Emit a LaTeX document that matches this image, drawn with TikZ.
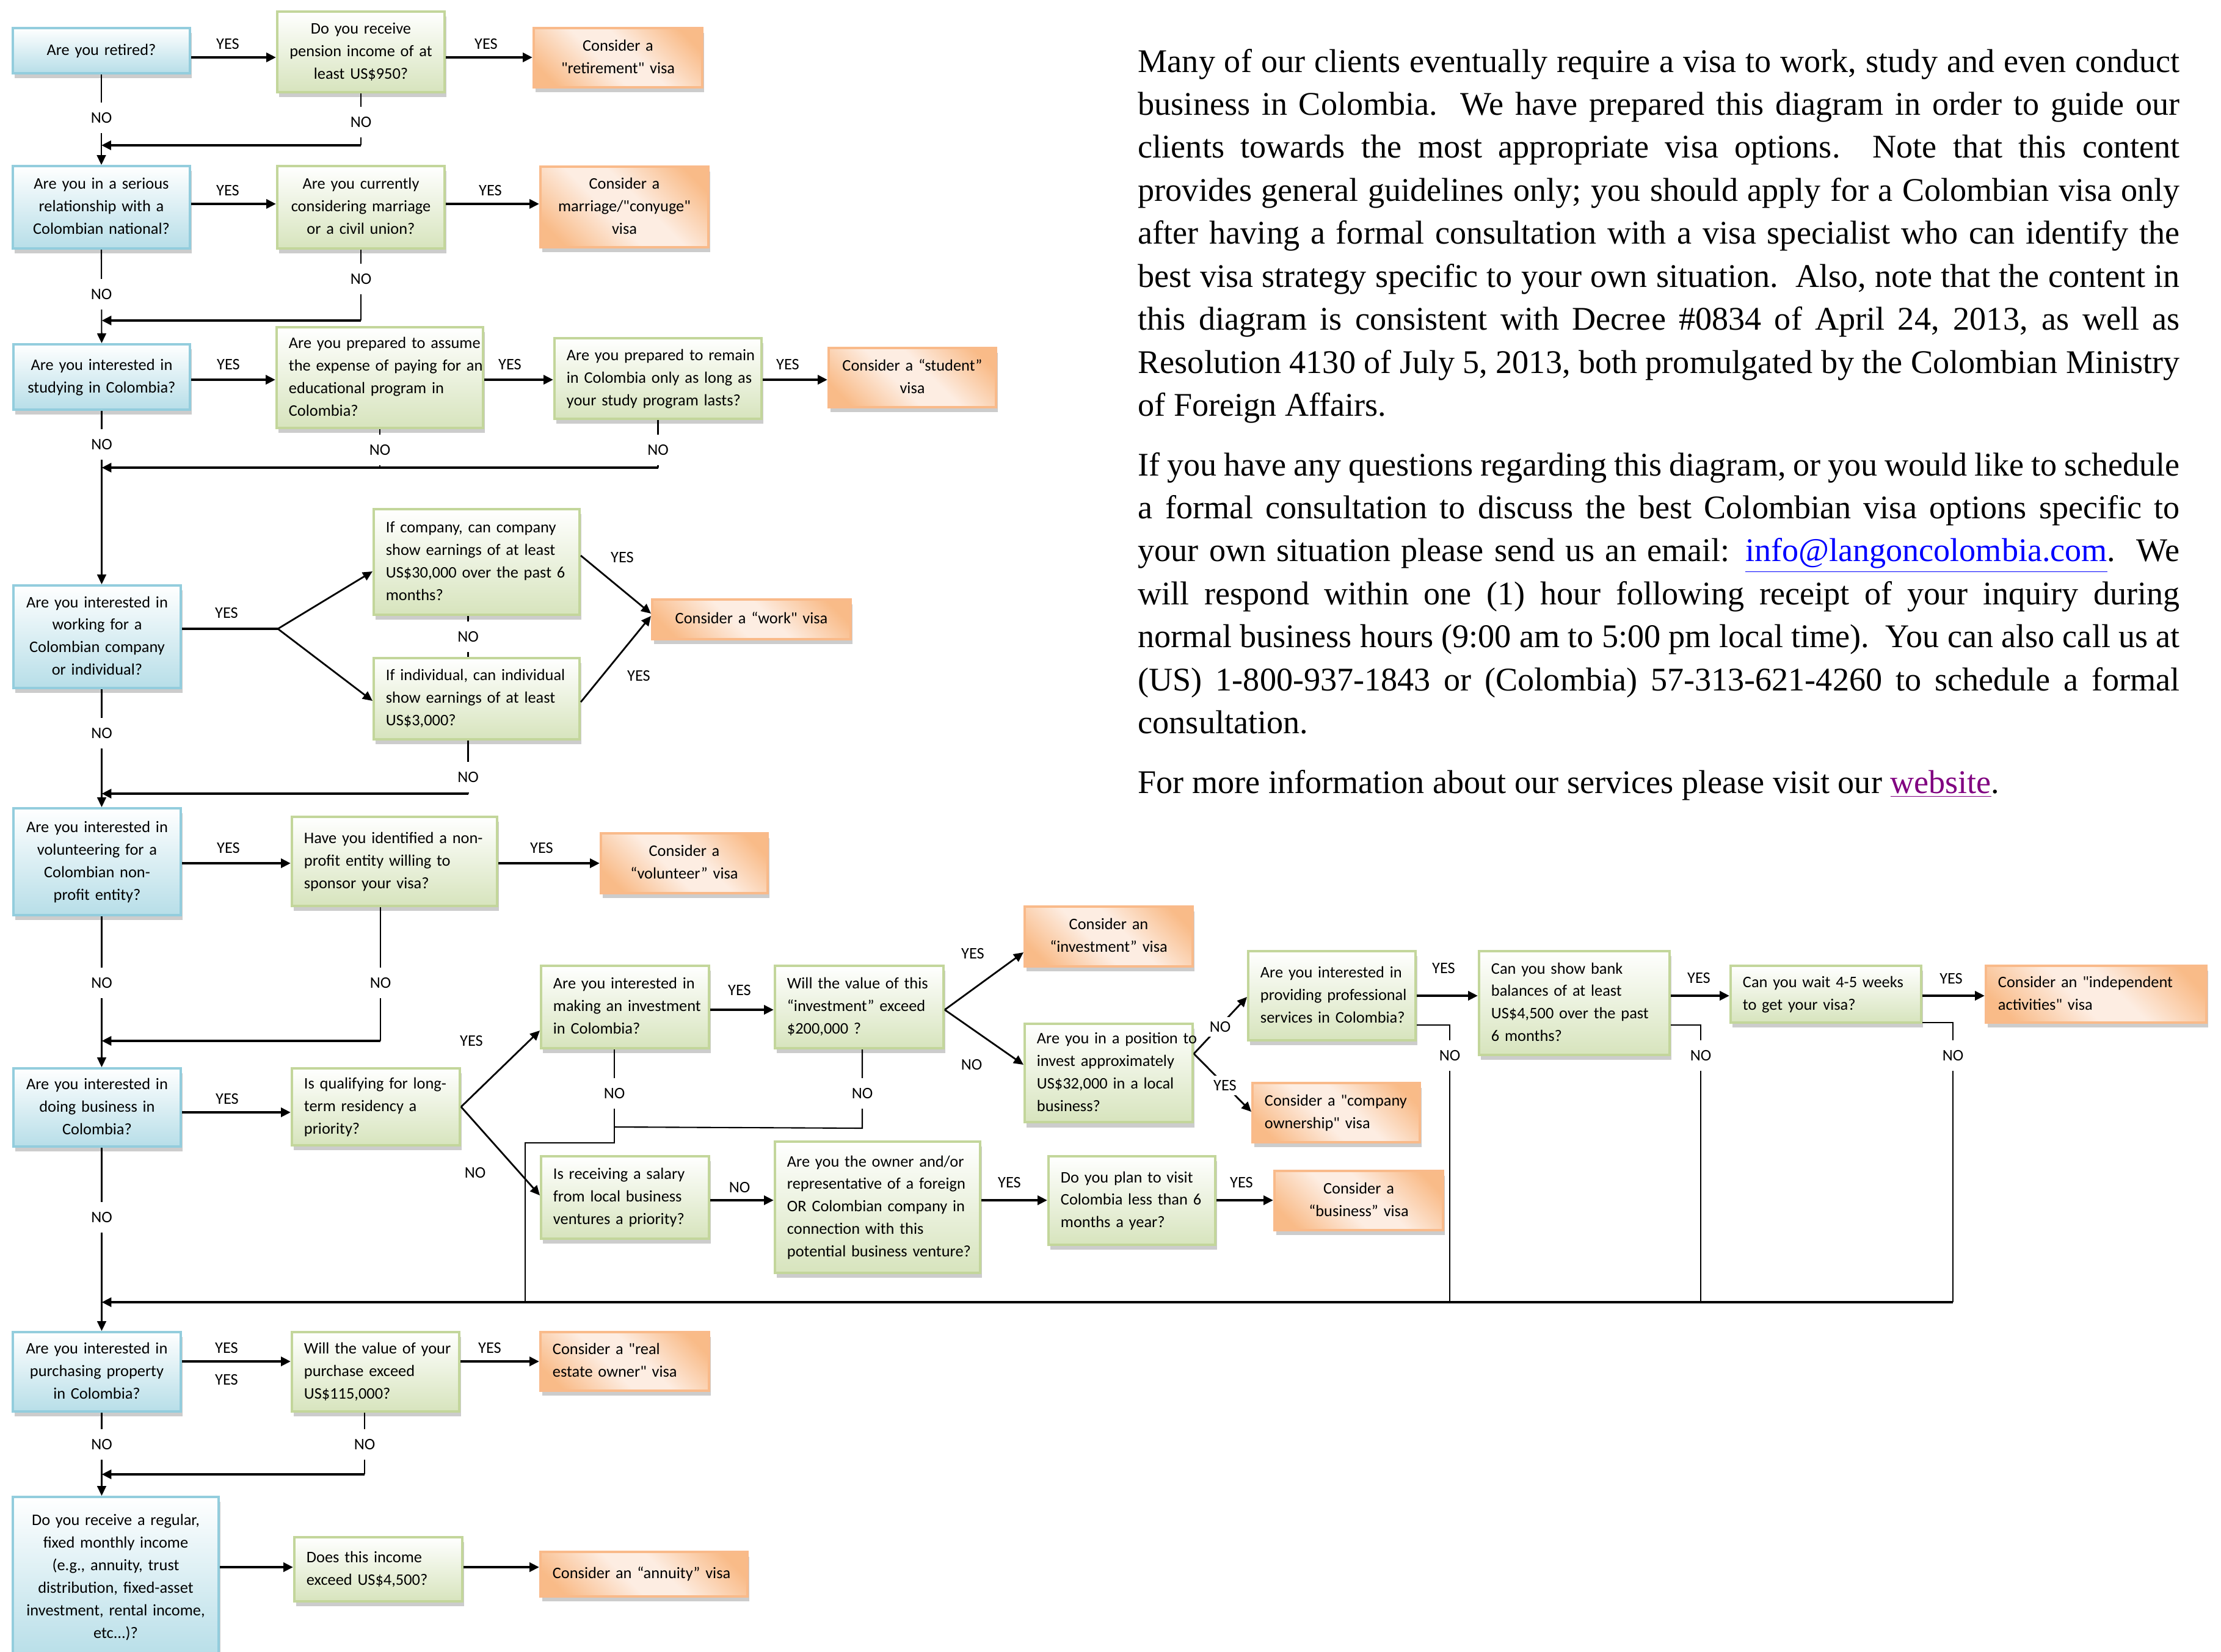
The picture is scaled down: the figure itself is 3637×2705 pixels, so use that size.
\documentclass[tikz,border=0pt]{standalone}
\usepackage{fontspec}
\setmainfont{Liberation Serif}
\newfontfamily\boxfont{Carlito}
\usetikzlibrary{arrows.meta,shadows}
\definecolor{bluebd}{HTML}{93CDDD}
\definecolor{bluebot}{HTML}{B7DEE8}
\definecolor{greenbd}{HTML}{C3D69B}
\definecolor{greenbot}{HTML}{D7E4BD}
\definecolor{orgD}{HTML}{F9BB88}
\definecolor{orgL}{HTML}{FDEDE2}
\definecolor{orgbd}{HTML}{F9BA8A}
\definecolor{linkblue}{HTML}{0000FF}
\definecolor{linkpurple}{HTML}{800080}
\pgfdeclarehorizontalshading{orgshade}{100bp}{color(0bp)=(orgD); color(22bp)=(orgD); color(44bp)=(orgL); color(56bp)=(orgL); color(78bp)=(orgD); color(100bp)=(orgD)}
\tikzset{
 qb/.style={draw, line width=1.1pt, inner xsep=0.2cm, inner ysep=2pt,
   font=\boxfont\fontsize{7.5}{10.5}\selectfont,
   drop shadow={shadow xshift=0.8pt, shadow yshift=-2.3pt, opacity=0.2, fill=black}},
 bq/.style={qb, draw=bluebd, top color=white, bottom color=bluebot},
 gq/.style={qb, draw=greenbd, top color=white, bottom color=greenbot},
 oq/.style={qb, draw=orgbd, shade, shading=orgshade, shading angle=45},
 al l/.style={align=left}, al c/.style={align=center},
 lbl/.style={font=\boxfont\fontsize{7.5}{9}\selectfont, inner sep=1pt},
 gap/.style={lbl, fill=white, inner ysep=0.16cm, inner xsep=0.06cm},
 ya/.style={line width=1.2pt, -{Triangle[length=4.5pt,width=4.2pt]}},
 ma/.style={line width=0.8pt, -{Triangle[length=4.5pt,width=4.2pt]}},
 ta/.style={line width=0.6pt, -{Triangle[length=4.5pt,width=4.2pt]}},
 tl/.style={line width=0.6pt},
 body/.style={font=\fontsize{15.4}{18}\selectfont, inner sep=0pt},
}
\newcommand\qbox[8]{%
 \pgfmathsetmacro\qbw{(#5-(#3))/100}%
 \pgfmathsetmacro\qbh{(#6-(#4))/100}%
 \pgfmathsetmacro\qbt{(#5-(#3)-40)/100}%
 \node[#1, al #7, minimum width=\qbw cm, minimum height=\qbh cm, text width=\qbt cm] (#2) at ({(#3+#5)/2},{(#4+#6)/2}) {\noindent\begin{tabular}{@{}#7@{}}#8\end{tabular}};}
\newcommand\bline[4]{\node[body, anchor=base west] (#1) at (1863,#2) {\makebox[17.05cm][#3]{#4}};}
\begin{document}
\begin{tikzpicture}[x=0.01cm,y=-0.01cm]
\useasboundingbox (0,0) rectangle (3637,2705);
\fill[white] (0,0) rectangle (3637,2705);

% ---------- boxes ----------
\qbox{bq}{B1}{21}{46}{311}{120}{c}{Are you retired?}
\qbox{gq}{G1}{454}{19}{728}{151}{c}{Do you receive\\pension income of at\\least US\$950?}
\qbox{oq}{O1}{874}{46}{1150}{143}{c}{Consider a\\"retirement" visa}

\qbox{bq}{B2}{21}{272}{311}{407}{c}{Are you in a serious\\relationship with a\\Colombian national?}
\qbox{gq}{G2}{454}{272}{728}{407}{c}{Are you currently\\considering marriage\\or a civil union?}
\qbox{oq}{O2}{885}{273}{1160}{405}{c}{Consider a\\marriage/"conyuge"\\visa}

\qbox{bq}{B3}{22}{564}{311}{671}{c}{Are you interested in\\studying in Colombia?}
\qbox{gq}{G3}{453}{536}{791}{701}{l}{Are you prepared to assume\\the expense of paying for an\\educational program in\\Colombia?}
\qbox{gq}{G3b}{908}{554}{1247}{686}{l}{Are you prepared to remain\\in Colombia only as long as\\your study program lasts?}
\qbox{oq}{O3}{1357}{570}{1631}{667}{c}{Consider a “student”\\visa}

\qbox{bq}{B4}{22}{959}{296}{1127}{c}{Are you interested in\\working for a\\Colombian company\\or individual?}
\qbox{gq}{G4a}{612}{834}{949}{1007}{l}{If company, can company\\show earnings of at least\\US\$30,000 over the past 6\\months?}
\qbox{gq}{G4b}{612}{1078}{949}{1211}{l}{If individual, can individual\\show earnings of at least\\US\$3,000?}
\qbox{oq}{O4}{1068}{982}{1393}{1047}{c}{Consider a “work" visa}

\qbox{bq}{B5}{22}{1324}{296}{1499}{c}{Are you interested in\\volunteering for a\\Colombian non-\\profit entity?}
\qbox{gq}{G5}{478}{1338}{814}{1484}{l}{Have you identified a non-\\profit entity willing to\\sponsor your visa?}
\qbox{oq}{O5}{984}{1365}{1257}{1463}{c}{Consider a\\“volunteer” visa}

\qbox{bq}{B6}{22}{1750}{296}{1878}{c}{Are you interested in\\doing business in\\Colombia?}
\qbox{gq}{G6}{478}{1750}{753}{1876}{l}{Is qualifying for long-\\term residency a\\priority?}
\qbox{gq}{G7}{886}{1582}{1161}{1717}{l}{Are you interested in\\making an investment\\in Colombia?}
\qbox{gq}{G7b}{1269}{1582}{1545}{1717}{l}{Will the value of this\\“investment” exceed\\\$200,000 ?}
\qbox{oq}{Oinv}{1678}{1485}{1953}{1583}{c}{Consider an\\“investment” visa}
\qbox{gq}{Gpos}{1678}{1678}{1953}{1837}{l}{Are you in a position to\\invest approximately\\US\$32,000 in a local\\business?}
\qbox{gq}{G10}{2044}{1558}{2318}{1704}{l}{Are you interested in\\providing professional\\services in Colombia?}
\qbox{oq}{Ocomp}{2051}{1774}{2325}{1871}{l}{Consider a "company\\ownership" visa}
\qbox{gq}{G11}{2422}{1558}{2734}{1728}{l}{Can you show bank\\balances of at least\\US\$4,500 over the past\\6 months?}
\qbox{gq}{G12}{2834}{1582}{3146}{1675}{l}{Can you wait 4-5 weeks\\to get your visa?}
\qbox{oq}{Oind}{3252}{1582}{3613}{1675}{l}{Consider an "independent\\activities" visa}
\qbox{gq}{G8}{886}{1894}{1161}{2029}{l}{Is receiving a salary\\from local business\\ventures a priority?}
\qbox{gq}{G8b}{1269}{1870}{1605}{2085}{l}{Are you the owner and/or\\representative of a foreign\\OR Colombian company in\\connection with this\\potential business venture?}
\qbox{gq}{G9}{1717}{1894}{1990}{2039}{l}{Do you plan to visit\\Colombia less than 6\\months a year?}
\qbox{oq}{Obus}{2087}{1918}{2363}{2015}{c}{Consider a\\“business” visa}

\qbox{bq}{B7}{21}{2182}{296}{2312}{c}{Are you interested in\\purchasing property\\in Colombia?}
\qbox{gq}{G13}{478}{2182}{752}{2312}{l}{Will the value of your\\purchase exceed\\US\$115,000?}
\qbox{oq}{Ore}{885}{2182}{1161}{2278}{l}{Consider a "real\\estate owner" visa}

\qbox{bq}{B8}{21}{2452}{358}{2715}{c}{Do you receive a regular,\\fixed monthly income\\(e.g., annuity, trust\\distribution, fixed-asset\\investment, rental income,\\etc...)?}
\qbox{gq}{G14}{482}{2518}{757}{2623}{l}{Does this income\\exceed US\$4,500?}
\qbox{oq}{Oann}{885}{2542}{1224}{2615}{l}{Consider an “annuity” visa}

% ---------- connectors ----------
% row 1
\draw[ya] (B1.east |- 0,94) -- (G1.west |- 0,94);
\draw[ya] (G1.east |- 0,94) -- (O1.west |- 0,94);
\draw[ta] (B1.south) -- (B2.north);
\draw[tl] (G1.south) -- (G1.south |- 0,238) coordinate (m1);
\draw[ya] (m1) -- (m1 -| B2.north);
% row 2
\draw[ya] (B2.east |- 0,334) -- (G2.west |- 0,334);
\draw[ya] (G2.east |- 0,334) -- (O2.west |- 0,334);
\draw[ta] (B2.south) -- (B3.north);
\draw[tl] (G2.south) -- (G2.south |- 0,525) coordinate (m2);
\draw[ya] (m2) -- (m2 -| B3.north);
% row 3
\draw[ya] (B3.east |- 0,622) -- (G3.west |- 0,622);
\draw[ya] (G3.east |- 0,622) -- (G3b.west |- 0,622);
\draw[ya] (G3b.east |- 0,622) -- (O3.west |- 0,622);
\draw[ta] (B3.south) -- (B3.south |- B4.north);
\draw[tl] (G3.south) -- (G3.south |- 0,766);
\draw[tl] (G3b.south) -- (G3b.south |- 0,766) coordinate (m3);
\draw[ya] (m3) -- (m3 -| B3.south);
% row 4
\draw[line width=1.2pt] (B4.east |- 0,1030) -- (455,1030) coordinate (f4);
\draw[ma] (f4) -- (G4a.west |- 0,936);
\draw[ma] (f4) -- (G4b.west |- 0,1148);
\draw[ma] (G4a.east |- 0,910) -- (O4.west |- 0,1005);
\draw[ma] (G4b.east |- 0,1150) -- (O4.west |- 0,1009);
\draw[tl] ([xshift=-0.14cm]G4a.south) -- ([xshift=-0.14cm]G4b.north);
\draw[tl] ([xshift=-0.14cm]G4b.south) -- ++(0,87) coordinate (m4);
\draw[ya] (m4) -- (m4 -| B3.south);
\draw[ta] (B3.south |- B4.south) -- (B3.south |- B5.north);
% row 5
\draw[ya] (B5.east |- 0,1414) -- (G5.west |- 0,1414);
\draw[ya] (G5.east |- 0,1414) -- (O5.west |- 0,1414);
\draw[ta] (B3.south |- B5.south) -- (B3.south |- B6.north);
\draw[tl] ([xshift=-0.23cm]G5.south) -- ++(0,219) coordinate (m5);
\draw[ya] (m5) -- (m5 -| B3.south);
% row 6
\draw[ya] (B6.east |- 0,1822) -- (G6.west |- 0,1822);
\draw[ma] (G6.east |- 0,1813) coordinate (f6) -- (G7.west |- 0,1688);
\draw[ma] (f6) -- (G8.west |- 0,1958);
\draw[ya] (G7.east |- 0,1654) -- (G7b.west |- 0,1654);
\draw[ma] (G7b.east |- 0,1654) coordinate (f7) -- (Oinv.west |- 0,1560);
\draw[ma] (f7) -- (Gpos.west |- 0,1744);
\draw[ma] (Gpos.east |- 0,1726) coordinate (f8) -- (G10.west |- 0,1633);
\draw[ma] (f8) -- (Ocomp.west |- 0,1821);
\draw[ya] (G10.east |- 0,1631) -- (G11.west |- 0,1631);
\draw[ya] (G11.east |- 0,1631) -- (G12.west |- 0,1631);
\draw[ya] (G12.east |- 0,1631) -- (Oind.west |- 0,1631);
\draw[tl] (G10.east |- 0,1679) -- (2374,1679) -- (2374,2133);
\draw[tl] (G11.east |- 0,1679) -- (2785,1679) -- (2785,2133);
\draw[tl] (G12.east |- 0,1675) -- (3198,1675) -- (3198,2133) coordinate (m9);
\draw[ya] (m9) -- (m9 -| B3.south);
\draw[tl] ([xshift=-0.175cm]G7.south) -- ++(0,153) coordinate (m7a) -- ++(-146,0) -- ++(0,263);
\draw[tl] ([xshift=0.05cm]G7b.south) -- ++(0,129) -- ([xshift=-0.175cm]G7.south |- 0,1846);
\draw[ya] (G8.east |- 0,1966) -- (G8b.west |- 0,1966);
\draw[ya] (G8b.east |- 0,1966) -- (G9.west |- 0,1966);
\draw[ya] (G9.east |- 0,1966) -- (Obus.west |- 0,1966);
\draw[ta] (B3.south |- B6.south) -- (B3.south |- B7.north);
% row 7
\draw[ya] (B7.east |- 0,2230) -- (G13.west |- 0,2230);
\draw[ya] (G13.east |- 0,2230) -- (Ore.west |- 0,2230);
\draw[ta] (B3.south |- B7.south) -- (B3.south |- B8.north);
\draw[tl] ([xshift=-0.18cm]G13.south) -- ++(0,101) coordinate (m10);
\draw[ya] (m10) -- (m10 -| B3.south);
% row 8
\draw[ya] (B8.east |- 0,2567) -- (G14.west |- 0,2567);
\draw[ya] (G14.east |- 0,2567) -- (Oann.west |- 0,2567);

% ---------- labels ----------
\node[lbl] (l1) at (373,72) {YES};
\node[lbl] (l2) at (796,72) {YES};
\node[gap] (l3) at (166,193) {NO};
\node[gap] (l4) at (591,200) {NO};
\node[lbl] (l5) at (373,312) {YES};
\node[lbl] (l6) at (803,312) {YES};
\node[gap] (l7) at (166,482) {NO};
\node[gap] (l8) at (591,457) {NO};
\node[lbl] (l9) at (374,597) {YES};
\node[lbl] (l10) at (835,597) {YES};
\node[lbl] (l11) at (1290,597) {YES};
\node[gap] (l12) at (166.5,728) {NO};
\node[gap] (l13) at (622,737) {NO};
\node[gap] (l14) at (1077.5,737) {NO};
\node[lbl] (l15) at (371,1004) {YES};
\node[lbl] (l16) at (1019,913) {YES};
\node[lbl] (l17) at (1046,1107) {YES};
\node[gap] (l18) at (766.5,1043) {NO};
\node[gap] (l19) at (766.5,1273) {NO};
\node[gap] (l20) at (166.5,1201) {NO};
\node[lbl] (l21) at (374,1389) {YES};
\node[lbl] (l22) at (887,1389) {YES};
\node[gap] (l23) at (166.5,1610) {NO};
\node[gap] (l24) at (623,1610) {NO};
\node[lbl] (l25) at (372,1800) {YES};
\node[lbl] (l26) at (772,1705) {YES};
\node[lbl] (l27) at (778,1921) {NO};
\node[lbl] (l28) at (1211,1622) {YES};
\node[lbl] (l29) at (1593,1562) {YES};
\node[lbl] (l30) at (1591,1744) {NO};
\node[gap, inner ysep=2pt] (l31) at (1998,1682) {NO};
\node[gap, inner ysep=2pt] (l32) at (2006,1778) {YES};
\node[lbl] (l33) at (2364,1586) {YES};
\node[lbl] (l34) at (2782,1602) {YES};
\node[lbl] (l35) at (3195,1603) {YES};
\node[gap] (l36) at (2374,1729) {NO};
\node[gap] (l37) at (2785,1729) {NO};
\node[gap] (l38) at (3198,1729) {NO};
\node[gap] (l39) at (1006,1791) {NO};
\node[gap] (l40) at (1412,1791) {NO};
\node[lbl] (l41) at (1211,1945) {NO};
\node[lbl] (l42) at (1653,1937) {YES};
\node[lbl] (l43) at (2033,1937) {YES};
\node[gap] (l44) at (166.5,1994) {NO};
\node[lbl] (l45) at (371,2208) {YES};
\node[lbl] (l46) at (371,2260) {YES};
\node[lbl] (l47) at (802,2208) {YES};
\node[gap] (l48) at (166.5,2366) {NO};
\node[gap] (l49) at (597,2366) {NO};

% ---------- text ----------
\bline{p1a}{118}{s}{Many of our clients eventually require a visa to work, study and even conduct}
\bline{p1b}{188.45}{s}{business in Colombia.\ \ We have prepared this diagram in order to guide our}
\bline{p1c}{258.9}{s}{clients towards the most appropriate visa options.\ \ Note that this content}
\bline{p1d}{329.35}{s}{provides general guidelines only; you should apply for a Colombian visa only}
\bline{p1e}{399.8}{s}{after having a formal consultation with a visa specialist who can identify the}
\bline{p1f}{470.25}{s}{best visa strategy specific to your own situation.\ \ Also, note that the content in}
\bline{p1g}{540.7}{s}{this diagram is consistent with Decree \#0834 of April 24, 2013, as well as}
\bline{p1h}{611.15}{s}{Resolution 4130 of July 5, 2013, both promulgated by the Colombian Ministry}
\bline{p1i}{681.6}{l}{of Foreign Affairs.}
\bline{p2a}{779}{s}{If you have any questions regarding this diagram, or you would like to schedule}
\bline{p2b}{849.45}{s}{a formal consultation to discuss the best Colombian visa options specific to}
\bline{p2c}{919.9}{s}{your own situation please send us an email: \textcolor{linkblue}{\underline{info@langoncolombia.com}}.\ \ We}
\bline{p2d}{990.35}{s}{will respond within one (1) hour following receipt of your inquiry during}
\bline{p2e}{1060.8}{s}{normal business hours (9:00 am to 5:00 pm local time).\ \ You can also call us at}
\bline{p2f}{1131.25}{s}{(US) 1-800-937-1843 or (Colombia) 57-313-621-4260 to schedule a formal}
\bline{p2g}{1201.7}{l}{consultation.}
\bline{p3a}{1299}{l}{For more information about our services please visit our \textcolor{linkpurple}{\underline{website}}.}
\end{tikzpicture}
\end{document}
